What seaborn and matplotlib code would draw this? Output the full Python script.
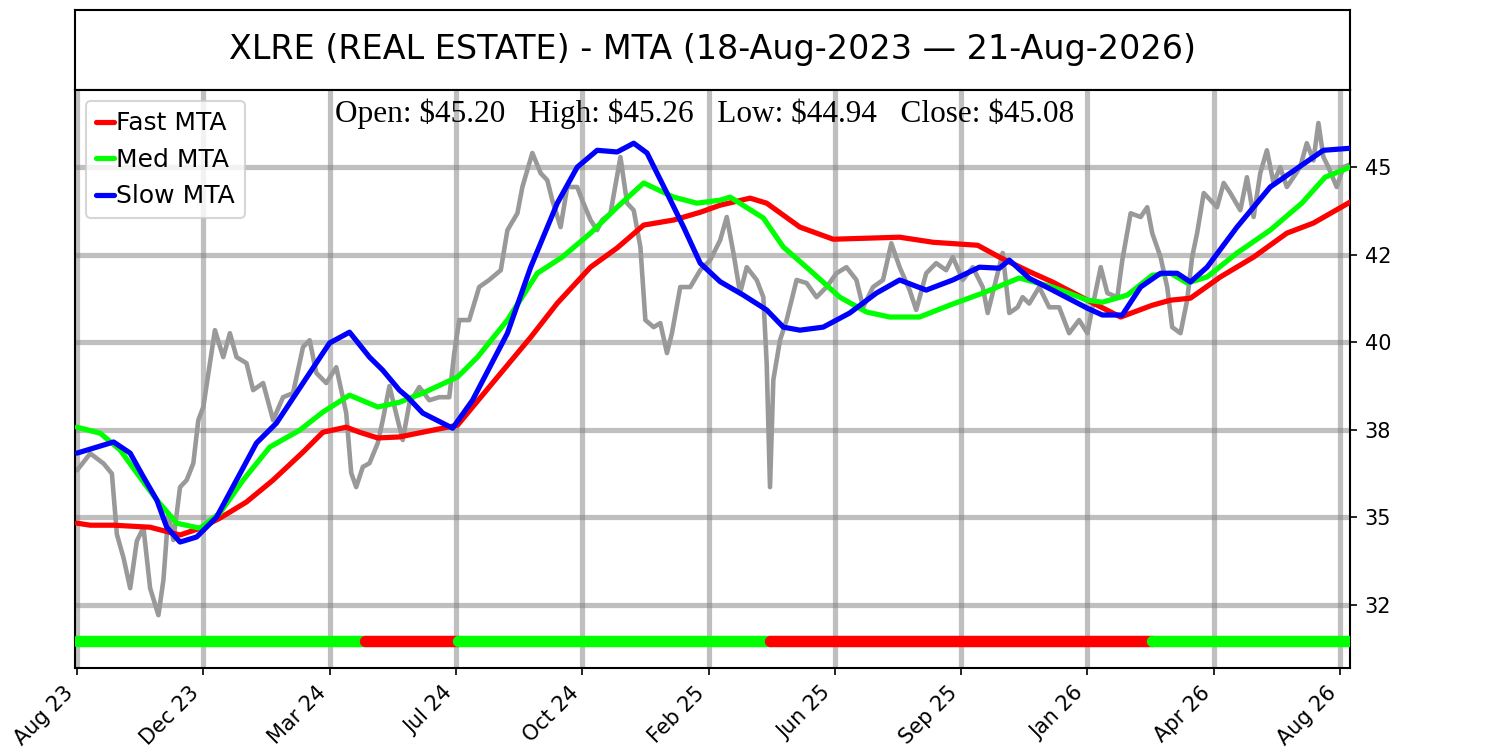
import matplotlib
matplotlib.use("Agg")
import matplotlib.pyplot as plt
import pandas as pd
import seaborn as sns

title = "XLRE (REAL ESTATE) - MTA (18-Aug-2023 \u2014 21-Aug-2026)"
ohlc_text = r"Open: \$45.20   High: \$45.26   Low: \$44.94   Close: \$45.08"

# x axis is the trading-day number, a label every 76 bars
month_bars = [0, 76, 152, 228, 304, 380, 456, 532, 608, 684, 760]
month_labels = ["Aug 23", "Dec 23", "Mar 24", "Jul 24", "Oct 24", "Feb 25",
                "Jun 25", "Sep 25", "Jan 26", "Apr 26", "Aug 26"]

y_tick_values = [32.0, 34.6, 37.2, 39.8, 42.4, 45.0]
y_tick_labels = ["32", "35", "38", "40", "42", "45"]

# closes (bar number, price)
price_bar = [0, 8, 16, 21, 24, 28, 32, 36, 40, 44, 49, 52, 55, 58, 62, 66, 70, 73, 76, 80,
             83, 88, 92, 96, 102, 106, 112, 118, 124, 130, 136, 140, 144, 150, 156, 162,
             165, 168, 172, 176, 181, 184, 188, 193, 196, 200, 206, 212, 218, 224, 227,
             230, 236, 242, 248, 255, 259, 265, 268, 274, 279, 283, 286, 291, 295, 301,
             304, 309, 313, 316, 321, 327, 331, 335, 339, 342, 347, 351, 355, 358, 363,
             369, 375, 381, 387, 391, 395, 399, 403, 409, 413, 415, 417, 419, 423, 427,
             433, 439, 445, 451, 457, 463, 469, 473, 479, 485, 490, 495, 501, 505, 511,
             517, 523, 527, 533, 539, 545, 548, 554, 557, 561, 566, 569, 573, 579, 585,
             591, 597, 603, 608, 611, 616, 620, 626, 629, 634, 640, 644, 647, 652, 656,
             659, 664, 668, 671, 674, 678, 682, 686, 690, 694, 700, 704, 708, 712, 716,
             720, 724, 728, 732, 736, 740, 744, 747, 750, 753, 758, 762, 766]
price_close = [36.0, 36.5, 36.2, 35.9, 34.1, 33.4, 32.5, 33.9, 34.3, 32.5, 31.7, 32.74,
               34.73, 33.93, 35.5, 35.71, 36.21, 37.49, 37.88, 39.18, 40.16, 39.36, 40.07,
               39.36, 39.18, 38.38, 38.59, 37.49, 38.17, 38.29, 39.66, 39.86, 38.89, 38.59,
               39.06, 37.7, 35.92, 35.5, 36.1, 36.21, 36.81, 37.49, 38.5, 37.49, 36.9,
               37.99, 38.47, 38.08, 38.17, 38.17, 39.48, 40.46, 40.46, 41.44, 41.65, 41.94,
               43.13, 43.63, 44.41, 45.42, 44.82, 44.61, 44.02, 43.22, 44.41, 44.41, 44.02,
               43.43, 43.13, 43.43, 43.63, 45.3, 43.93, 43.72, 42.63, 40.46, 40.25, 40.37,
               39.48, 40.07, 41.44, 41.44, 41.94, 42.24, 42.83, 43.52, 42.45, 41.26, 42.03,
               41.65, 41.14, 39.18, 35.5, 38.68, 39.86, 40.46, 41.65, 41.56, 41.14, 41.44,
               41.85, 42.03, 41.65, 40.84, 41.44, 41.65, 42.74, 42.03, 41.35, 40.76, 41.85,
               42.15, 41.94, 42.33, 41.65, 42.03, 41.44, 40.67, 41.85, 42.45, 40.67, 40.84,
               41.14, 40.95, 41.44, 40.84, 40.84, 40.07, 40.46, 40.07, 40.84, 42.03, 41.26,
               41.14, 42.24, 43.63, 43.52, 43.81, 43.04, 42.33, 41.44, 40.25, 40.07, 41.05,
               42.33, 43.04, 44.23, 44.02, 43.81, 44.53, 44.23, 43.72, 44.7, 43.52, 44.82,
               45.5, 44.53, 45.0, 44.41, 44.7, 45.0, 45.71, 45.2, 46.31, 45.3, 45.0, 44.41,
               45.0, 45.08]

fast_bar = [0, 8, 22, 44, 62, 74, 86, 102, 118, 136, 148, 162, 170, 181, 194, 229, 248,
            273, 289, 309, 325, 341, 359, 375, 387, 405, 415, 435, 455, 475, 495, 515, 542,
            555, 573, 587, 608, 628, 647, 658, 670, 688, 708, 728, 744, 766]
fast_mta = [34.43, 34.37, 34.37, 34.31, 34.08, 34.28, 34.58, 35.06, 35.71, 36.54, 37.13,
            37.28, 37.13, 36.96, 36.99, 37.34, 38.47, 39.95, 40.96, 42.03, 42.6, 43.28, 43.43,
            43.66, 43.87, 44.08, 43.93, 43.22, 42.86, 42.89, 42.92, 42.77, 42.68, 42.33,
            41.9, 41.59, 41.05, 40.55, 40.9, 41.05, 41.11, 41.74, 42.33, 43.04, 43.34, 43.96]

med_bar = [0, 14, 26, 36, 48, 60, 74, 86, 100, 116, 134, 148, 164, 181, 194, 208, 229,
           241, 259, 277, 292, 309, 325, 341, 359, 373, 387, 393, 413, 425, 441, 459, 475,
           489, 507, 525, 545, 567, 587, 608, 617, 632, 647, 658, 668, 680, 698, 718, 737,
           751, 766]
med_mta = [37.28, 37.1, 36.6, 35.92, 35.12, 34.43, 34.28, 34.73, 35.71, 36.69, 37.19, 37.73,
           38.23, 37.88, 38.02, 38.29, 38.77, 39.36, 40.46, 41.85, 42.33, 43.04, 43.81, 44.53,
           44.11, 43.93, 44.02, 44.11, 43.49, 42.63, 41.94, 41.14, 40.7, 40.55, 40.55, 40.9,
           41.26, 41.71, 41.44, 41.05, 40.99, 41.2, 41.79, 41.85, 41.56, 41.74, 42.45, 43.13,
           43.93, 44.7, 45.0]

slow_bar = [0, 10, 22, 32, 40, 48, 54, 62, 72, 84, 96, 108, 120, 136, 152, 164, 176, 184,
            194, 199, 208, 226, 238, 259, 273, 289, 301, 313, 325, 335, 343, 355, 365, 375,
            387, 401, 415, 425, 435, 449, 465, 481, 495, 511, 527, 543, 555, 561, 573, 587,
            608, 617, 629, 640, 652, 662, 670, 680, 698, 718, 737, 750, 766]
slow_mta = [36.51, 36.66, 36.84, 36.51, 35.8, 35.12, 34.31, 33.87, 34.02, 34.61, 35.71,
            36.81, 37.4, 38.59, 39.78, 40.1, 39.36, 38.97, 38.38, 38.17, 37.7, 37.25, 38.08,
            40.07, 42.03, 43.93, 45.0, 45.5, 45.45, 45.71, 45.42, 44.23, 43.22, 42.15, 41.6,
            41.2, 40.76, 40.25, 40.16, 40.25, 40.67, 41.26, 41.65, 41.35, 41.65, 42.03, 42.0,
            42.24, 41.7, 41.35, 40.81, 40.61, 40.61, 41.44, 41.85, 41.85, 41.59, 42.03, 43.22,
            44.41, 45.06, 45.5, 45.56]

# trend strip at the bottom
trend_start = [0, 173, 229, 417, 647]
trend_end = [173, 229, 417, 647, 766]
trend_up = [True, False, True, False, True]
trend_level = 30.93

sns.set_theme(style="white")
plt.rcParams["font.family"] = ["DejaVu Sans"]
plt.rcParams["text.color"] = "black"
plt.rcParams["xtick.color"] = "black"
plt.rcParams["ytick.color"] = "black"
plt.rcParams["axes.labelcolor"] = "black"

fig = plt.figure(figsize=(10, 5), dpi=150)
ax_title = fig.add_axes([0.05, 0.88, 0.85, 0.1067])
ax = fig.add_axes([0.05, 0.1093, 0.85, 0.7707])

# title box
ax_title.set_xticks([])
ax_title.set_yticks([])
for sp in ax_title.spines.values():
    sp.set_color("black")
    sp.set_linewidth(1.0)
ax_title.text(0.5, 0.5, title, ha="center", va="center", fontsize=16, color="black",
              transform=ax_title.transAxes)

price_df = pd.DataFrame({"bar": price_bar, "close": price_close})
sns.lineplot(data=price_df, x="bar", y="close", color="#999999", lw=2.2, ax=ax, legend=False, zorder=2)

sns.lineplot(x=fast_bar, y=fast_mta, color="#ff0000", lw=2.5, label="Fast MTA", ax=ax, zorder=3)
sns.lineplot(x=med_bar, y=med_mta, color="#00ff00", lw=2.5, label="Med MTA", ax=ax, zorder=3)
sns.lineplot(x=slow_bar, y=slow_mta, color="#0000ff", lw=2.5, label="Slow MTA", ax=ax, zorder=3)

for s, e, up in zip(trend_start, trend_end, trend_up):
    ax.plot([s, e], [trend_level, trend_level], color="#00ff00" if up else "#ff0000",
            lw=5.5, solid_capstyle="round", zorder=3)

ax.set_xlim(-1.2, 766)
ax.set_ylim(30.13, 47.29)
ax.set_xticks(month_bars)
ax.set_xticklabels(month_labels, rotation=45, ha="right", fontsize=10)
ax.yaxis.tick_right()
ax.set_yticks(y_tick_values)
ax.set_yticklabels(y_tick_labels, fontsize=10)
ax.tick_params(axis="both", length=3.5, width=0.8, color="black", labelcolor="black",
               direction="out", bottom=True, right=True, left=False)
ax.set_xlabel("")
ax.set_ylabel("")

ax.grid(True, color="gray", alpha=0.5, lw=2.5)
ax.set_axisbelow(True)
for sp in ax.spines.values():
    sp.set_color("black")
    sp.set_linewidth(1.0)

ax.text(0.494, 0.985, ohlc_text, ha="center", va="top", fontsize=15, color="black",
        family=["Liberation Serif", "DejaVu Serif"], transform=ax.transAxes, zorder=4)

leg = ax.legend(loc="upper left", fontsize=12, handlelength=0.7, handletextpad=0.1,
                labelspacing=0.5, borderaxespad=0.45, framealpha=0.8)
for t in leg.get_texts():
    t.set_color("black")

fig.savefig("out.png", dpi=150)
